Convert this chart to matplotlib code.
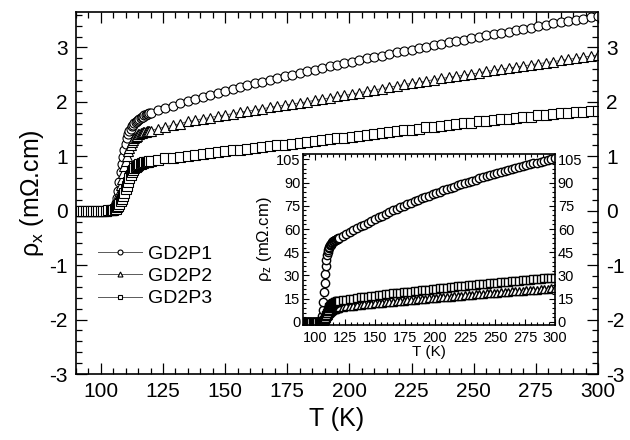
import matplotlib
matplotlib.use("Agg")
import matplotlib.pyplot as plt
from matplotlib.ticker import MultipleLocator

plt.rcParams['font.family'] = ['Liberation Sans', 'DejaVu Sans']
plt.rcParams['mathtext.default'] = 'regular'
plt.rcParams['axes.unicode_minus'] = False

# --- temperatures (K) ---
T_flat = [90, 91, 92, 93, 94, 95, 96, 97, 98, 99, 100, 101, 102, 103, 104]
T_trans = [104.5, 105, 105.5, 106, 106.5, 107, 107.5, 108, 108.5, 109, 109.5,
           110, 110.5, 111, 111.5, 112, 112.5, 113, 113.5, 114, 114.5, 115,
           115.5, 116, 116.5, 117, 117.5, 118, 118.5, 119, 119.5]
T_lin = [120, 123, 126, 129, 132, 135, 138, 141, 144, 147, 150, 153, 156, 159,
         162, 165, 168, 171, 174, 177, 180, 183, 186, 189, 192, 195, 198, 201,
         204, 207, 210, 213, 216, 219, 222, 225, 228, 231, 234, 237, 240, 243,
         246, 249, 252, 255, 258, 261, 264, 267, 270, 273, 276, 279, 282, 285,
         288, 291, 294, 297, 300]
T = T_flat + T_trans + T_lin

labels = ['GD2P1', 'GD2P2', 'GD2P3']

# --- rho_x (mOhm.cm) ---
flat_x = [0.0, 0.0, 0.0, 0.0, 0.0, 0.0, 0.0, 0.0, 0.0, 0.0, 0.0, 0.0, 0.0, 0.01, 0.02]

rx_p1 = flat_x + [
    0.03, 0.05, 0.08, 0.14, 0.24, 0.37, 0.53, 0.71, 0.86, 0.99, 1.12, 1.23,
    1.33, 1.40, 1.46, 1.51, 1.55, 1.58, 1.61, 1.63, 1.65, 1.67, 1.69, 1.70,
    1.72, 1.73, 1.75, 1.76, 1.77, 1.78, 1.79] + [
    1.80, 1.85, 1.89, 1.93, 1.97, 2.01, 2.05, 2.09, 2.12, 2.16, 2.20, 2.23,
    2.27, 2.30, 2.34, 2.37, 2.40, 2.44, 2.47, 2.50, 2.53, 2.56, 2.59, 2.62,
    2.65, 2.68, 2.71, 2.74, 2.77, 2.80, 2.82, 2.85, 2.88, 2.91, 2.93, 2.96,
    2.99, 3.01, 3.04, 3.07, 3.09, 3.12, 3.14, 3.17, 3.19, 3.22, 3.24, 3.27,
    3.29, 3.32, 3.34, 3.36, 3.39, 3.41, 3.44, 3.46, 3.48, 3.51, 3.53, 3.56,
    3.58]

rx_p2 = flat_x + [
    0.02, 0.03, 0.05, 0.08, 0.13, 0.21, 0.33, 0.47, 0.59, 0.70, 0.82, 0.92,
    1.01, 1.09, 1.16, 1.21, 1.26, 1.30, 1.33, 1.36, 1.38, 1.40, 1.41, 1.42,
    1.43, 1.44, 1.44, 1.45, 1.46, 1.46, 1.47] + [
    1.47, 1.51, 1.54, 1.57, 1.60, 1.64, 1.66, 1.69, 1.71, 1.74, 1.76, 1.78,
    1.81, 1.83, 1.85, 1.87, 1.90, 1.92, 1.94, 1.96, 1.98, 2.00, 2.03, 2.05,
    2.07, 2.10, 2.12, 2.14, 2.17, 2.19, 2.22, 2.24, 2.27, 2.29, 2.32, 2.34,
    2.36, 2.38, 2.41, 2.43, 2.45, 2.47, 2.49, 2.51, 2.53, 2.56, 2.58, 2.60,
    2.62, 2.64, 2.66, 2.68, 2.70, 2.72, 2.74, 2.76, 2.78, 2.80, 2.82, 2.84,
    2.86]

rx_p3 = flat_x + [
    0.01, 0.02, 0.03, 0.04, 0.06, 0.09, 0.13, 0.17, 0.22, 0.27, 0.33, 0.39,
    0.46, 0.53, 0.60, 0.66, 0.71, 0.75, 0.78, 0.80, 0.82, 0.84, 0.85, 0.86,
    0.87, 0.88, 0.89, 0.89, 0.90, 0.90, 0.91] + [
    0.92, 0.94, 0.96, 0.97, 0.99, 1.01, 1.03, 1.04, 1.06, 1.08, 1.09, 1.11,
    1.12, 1.14, 1.15, 1.17, 1.18, 1.20, 1.21, 1.23, 1.24, 1.26, 1.28, 1.29,
    1.31, 1.33, 1.34, 1.36, 1.38, 1.39, 1.41, 1.43, 1.44, 1.46, 1.48, 1.49,
    1.51, 1.53, 1.54, 1.56, 1.57, 1.59, 1.61, 1.62, 1.64, 1.65, 1.67, 1.68,
    1.69, 1.71, 1.72, 1.73, 1.75, 1.76, 1.77, 1.79, 1.80, 1.81, 1.82, 1.83,
    1.84]

# --- rho_z (mOhm.cm), inset ---
flat_z = [0.0, 0.0, 0.0, 0.0, 0.0, 0.0, 0.0, 0.0, 0.0, 0.0, 0.0, 0.0, 0.0, 0.0, 0.2]

rz_p1 = flat_z + [
    0.5, 1.0, 2.0, 4.0, 8.0, 13.0, 19.0, 25.0, 31.0, 36.0, 40.0, 43.0,
    45.0, 46.5, 47.5, 48.5, 49.5, 50.0, 50.5, 51.0, 51.5, 52.0, 52.2, 52.5,
    52.7, 53.0, 53.2, 53.4, 53.6, 53.8, 54.0] + [
    54.0, 55.4, 56.7, 58.0, 59.2, 60.5, 61.7, 62.9, 64.1, 65.3, 66.5, 67.6,
    68.7, 69.8, 70.9, 72.0, 73.0, 74.0, 75.0, 76.0, 77.0, 77.9, 78.8, 79.8,
    80.7, 81.6, 82.5, 83.3, 84.1, 85.0, 85.8, 86.6, 87.4, 88.2, 89.0, 89.8,
    90.5, 91.3, 92.0, 92.8, 93.5, 94.2, 94.9, 95.6, 96.3, 97.0, 97.6, 98.2,
    98.8, 99.4, 100.0, 100.6, 101.2, 101.8, 102.4, 103.0, 103.6, 104.2,
    104.8, 105.4, 106.0]

rz_p2 = flat_z + [
    0.0, 0.0, 0.1, 0.2, 0.3, 0.5, 0.8, 1.2, 1.8, 2.5, 3.2, 3.9,
    4.6, 5.2, 5.8, 6.3, 6.7, 7.1, 7.4, 7.7, 7.9, 8.1, 8.3, 8.5,
    8.6, 8.8, 8.9, 9.0, 9.1, 9.2, 9.3] + [
    9.5, 9.8, 10.0, 10.3, 10.5, 10.8, 11.0, 11.3, 11.5, 11.8, 12.0, 12.2,
    12.4, 12.7, 12.9, 13.1, 13.3, 13.5, 13.7, 13.9, 14.1, 14.3, 14.5, 14.8,
    15.0, 15.2, 15.4, 15.6, 15.8, 16.0, 16.2, 16.4, 16.6, 16.8, 17.0, 17.2,
    17.4, 17.6, 17.8, 18.0, 18.2, 18.4, 18.6, 18.7, 18.9, 19.1, 19.3, 19.5,
    19.7, 19.9, 20.0, 20.2, 20.4, 20.6, 20.8, 20.9, 21.1, 21.3, 21.5, 21.6,
    21.8]

rz_p3 = flat_z + [
    0.0, 0.0, 0.1, 0.2, 0.4, 0.7, 1.1, 1.7, 2.6, 3.6, 4.7, 5.8,
    6.9, 7.9, 8.8, 9.6, 10.2, 10.7, 11.1, 11.5, 11.8, 12.1, 12.3, 12.5,
    12.7, 12.9, 13.0, 13.1, 13.2, 13.3, 13.4] + [
    13.6, 14.0, 14.4, 14.7, 15.1, 15.4, 15.8, 16.1, 16.4, 16.7, 17.0, 17.3,
    17.6, 17.8, 18.1, 18.4, 18.6, 18.9, 19.1, 19.4, 19.6, 19.9, 20.1, 20.4,
    20.6, 20.9, 21.1, 21.4, 21.6, 21.9, 22.1, 22.4, 22.6, 22.9, 23.1, 23.3,
    23.6, 23.8, 24.0, 24.3, 24.5, 24.7, 25.0, 25.2, 25.4, 25.6, 25.8, 26.0,
    26.3, 26.5, 26.7, 26.9, 27.1, 27.3, 27.5, 27.7, 27.9, 28.1, 28.3, 28.4,
    28.6]

markers = ['o', '^', 's']


def style_ticks(ax, major, minor, width):
    ax.tick_params(which='both', direction='in', top=True, right=True,
                   labelright=True, width=width)
    ax.tick_params(which='major', length=major)
    ax.tick_params(which='minor', length=minor)
    for s in ax.spines.values():
        s.set_linewidth(1.2)


fig = plt.figure(figsize=(6.3, 4.4), dpi=100)
ax = fig.add_axes([0.1206, 0.150, 0.8286, 0.8227])

for y, m, lab in zip([rx_p1, rx_p2, rx_p3], markers, labels):
    ax.plot(T, y, color='0.35', lw=0.7, marker=m, ms=6.5, mfc='white',
            mec='k', mew=0.8, label=lab)

ax.set_xlim(90, 300)
ax.set_ylim(-3, 3.65)
ax.xaxis.set_major_locator(MultipleLocator(25))
ax.xaxis.set_minor_locator(MultipleLocator(5))
ax.yaxis.set_major_locator(MultipleLocator(1))
ax.yaxis.set_minor_locator(MultipleLocator(0.2))
style_ticks(ax, 8, 4.5, 0.9)
ax.tick_params(labelsize=15, pad=6)
ax.set_xlabel('T (K)', fontsize=18, labelpad=4)
ax.set_ylabel('ρ$_x$ (mΩ.cm)', fontsize=18, labelpad=2)

leg = ax.legend(loc='upper left', bbox_to_anchor=(0.008, 0.405), frameon=False,
                fontsize=14, handlelength=2.3, handletextpad=0.3,
                labelspacing=0.25, markerscale=0.55)

# --- inset ---
ins = fig.add_axes([0.481, 0.2614, 0.400, 0.3886])
for y, m in zip([rz_p1, rz_p2, rz_p3], markers):
    ins.plot(T, y, color='k', lw=0.6, marker=m, ms=6, mfc='white',
             mec='k', mew=1.0)
ins.set_xlim(90, 300)
ins.set_ylim(-2, 108.5)
ins.xaxis.set_major_locator(MultipleLocator(25))
ins.xaxis.set_minor_locator(MultipleLocator(5))
ins.yaxis.set_major_locator(MultipleLocator(15))
ins.yaxis.set_minor_locator(MultipleLocator(3))
style_ticks(ins, 4, 2, 0.8)
ins.tick_params(labelsize=10.5, pad=2)
ins.tick_params(axis='x', pad=4)
ins.set_xlabel('T (K)', fontsize=11, labelpad=0)
ins.set_ylabel('ρ$_z$ (mΩ.cm)', fontsize=12, labelpad=1)

fig.savefig('out.png', dpi=100)
